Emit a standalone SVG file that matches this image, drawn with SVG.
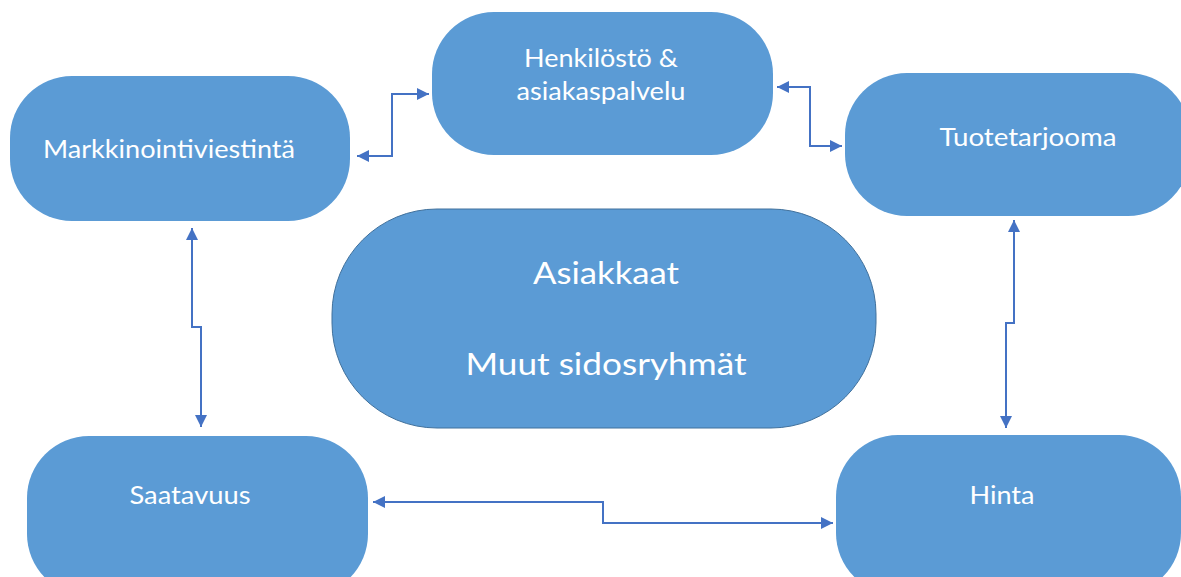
<svg xmlns="http://www.w3.org/2000/svg" width="1181" height="577" viewBox="0 0 1181 577">
<style>
.node{fill:#5B9BD5}
.center{fill:#5B9BD5;stroke:#41719C;stroke-width:1}
.t{fill:#fff;font-family:Lato,"Open Sans","Liberation Sans",sans-serif;text-anchor:middle}
.s{font-size:24.5px}
.b{font-size:31px}
.c{fill:none;stroke:#4472C4;stroke-width:2}
</style>
<defs>
<marker id="ah" viewBox="0 0 10 10" refX="10" refY="5" markerWidth="6" markerHeight="6" orient="auto-start-reverse" markerUnits="strokeWidth">
<path d="M0,0 L10,5 L0,10 z" fill="#4472C4"/>
</marker>
</defs>
<rect width="1181" height="577" fill="#fff"/>
<g id="markkinointiviestinta">
<rect class="node" x="10" y="76" width="340" height="145" rx="62" ry="62"/>
<text class="t s" x="169" y="158" textLength="252" lengthAdjust="spacingAndGlyphs">Markkinointiviestintä</text>
</g>
<g id="henkilosto">
<rect class="node" x="432" y="12" width="341" height="143" rx="62" ry="62"/>
<text class="t s" x="601" y="67" textLength="154" lengthAdjust="spacingAndGlyphs">Henkilöstö &amp;</text>
<text class="t s" x="601" y="100" textLength="169" lengthAdjust="spacingAndGlyphs">asiakaspalvelu</text>
</g>
<g id="tuotetarjooma">
<rect class="node" x="845" y="73" width="345" height="143" rx="62" ry="62"/>
<text class="t s" x="1028" y="146" textLength="177" lengthAdjust="spacingAndGlyphs">Tuotetarjooma</text>
</g>
<g id="asiakkaat">
<rect class="center" x="332" y="209" width="544" height="219" rx="105" ry="105"/>
<text class="t b" x="606" y="284" textLength="146" lengthAdjust="spacingAndGlyphs">Asiakkaat</text>
<text class="t b" x="606" y="375" textLength="281" lengthAdjust="spacingAndGlyphs">Muut sidosryhmät</text>
</g>
<g id="saatavuus">
<rect class="node" x="27" y="436" width="341" height="160" rx="62" ry="62"/>
<text class="t s" x="190" y="504" textLength="121" lengthAdjust="spacingAndGlyphs">Saatavuus</text>
</g>
<g id="hinta">
<rect class="node" x="836" y="435" width="345" height="160" rx="62" ry="62"/>
<text class="t s" x="1002" y="504" textLength="65" lengthAdjust="spacingAndGlyphs">Hinta</text>
</g>
<g id="connectors">
<path class="c" d="M357,156 H392 V94 H429" marker-start="url(#ah)" marker-end="url(#ah)"/>
<path class="c" d="M777,87 H810 V146 H842" marker-start="url(#ah)" marker-end="url(#ah)"/>
<path class="c" d="M192,228 V327 H201 V427" marker-start="url(#ah)" marker-end="url(#ah)"/>
<path class="c" d="M1014,220 V323 H1006 V428" marker-start="url(#ah)" marker-end="url(#ah)"/>
<path class="c" d="M373,502 H603 V523 H833" marker-start="url(#ah)" marker-end="url(#ah)"/>
</g>
</svg>
